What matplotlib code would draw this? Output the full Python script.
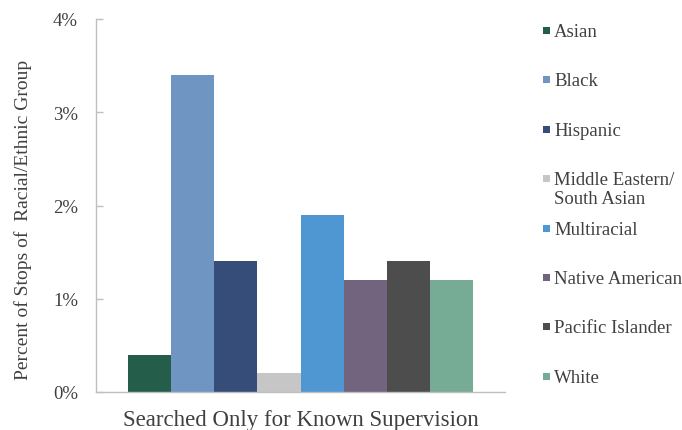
import matplotlib
matplotlib.use("Agg")
import matplotlib.pyplot as plt
from matplotlib.patches import Rectangle

# Share of stops searched only for known supervision, by group (percent)
groups = ["Asian", "Black", "Hispanic", "Middle Eastern/\nSouth Asian",
          "Multiracial", "Native American", "Pacific Islander", "White"]
values = [0.4, 3.4, 1.4, 0.2, 1.9, 1.2, 1.4, 1.2]
colors = ["#245e4b", "#6f95c2", "#354d78", "#c6c6c6",
          "#4f97d2", "#72637f", "#4d4d4d", "#76ab96"]
category = "Searched Only for Known Supervision"
yticks = [0, 1, 2, 3, 4]
ytick_labels = ["0%", "1%", "2%", "3%", "4%"]

plt.rcParams["font.family"] = ["Liberation Serif", "DejaVu Serif"]
text_color = "#404040"

W, H = 682, 431
fig = plt.figure(figsize=(W / 100, H / 100), dpi=100)
ax = fig.add_axes([96 / W, 1 - 393 / H, 409 / W, 373 / H])

x = list(range(len(values)))
ax.bar(x, values, width=1.0, color=colors, linewidth=0)

ax.set_xlim(-1.242, 8.242)
ax.set_ylim(0, 4)
ax.set_yticks(yticks)
ax.set_yticklabels(ytick_labels, fontsize=13.5, color=text_color)
ax.set_xticks([(len(values) - 1) / 2])
ax.set_xticklabels([category], fontsize=16.5, color=text_color)
ax.tick_params(axis="x", length=0, pad=12)
ax.tick_params(axis="y", direction="in", length=5, width=1.0,
               color="#bfbfbf", pad=13)

for side in ("top", "right"):
    ax.spines[side].set_visible(False)
for side in ("left", "bottom"):
    ax.spines[side].set_color("#bfbfbf")
    ax.spines[side].set_linewidth(1.0)

fig.text(23 / W, 1 - 220 / H, "Percent of Stops of  Racial/Ethnic Group",
         rotation=90, ha="center", va="center", fontsize=14, color=text_color)

# Legend drawn as a column of swatches and labels
top0 = 27
step = 49.4
for i, (name, col) in enumerate(zip(groups, colors)):
    ytop = top0 + i * step
    fig.patches.append(Rectangle((543 / W, 1 - (ytop + 8) / H), 7 / W, 7 / H,
                                 transform=fig.transFigure, color=col,
                                 linewidth=0))
    fig.text(554 / W, 1 - (ytop - 3) / H, name, ha="left", va="top",
             fontsize=13.5, color=text_color, linespacing=1.15)

fig.savefig("out.png", dpi=100)
